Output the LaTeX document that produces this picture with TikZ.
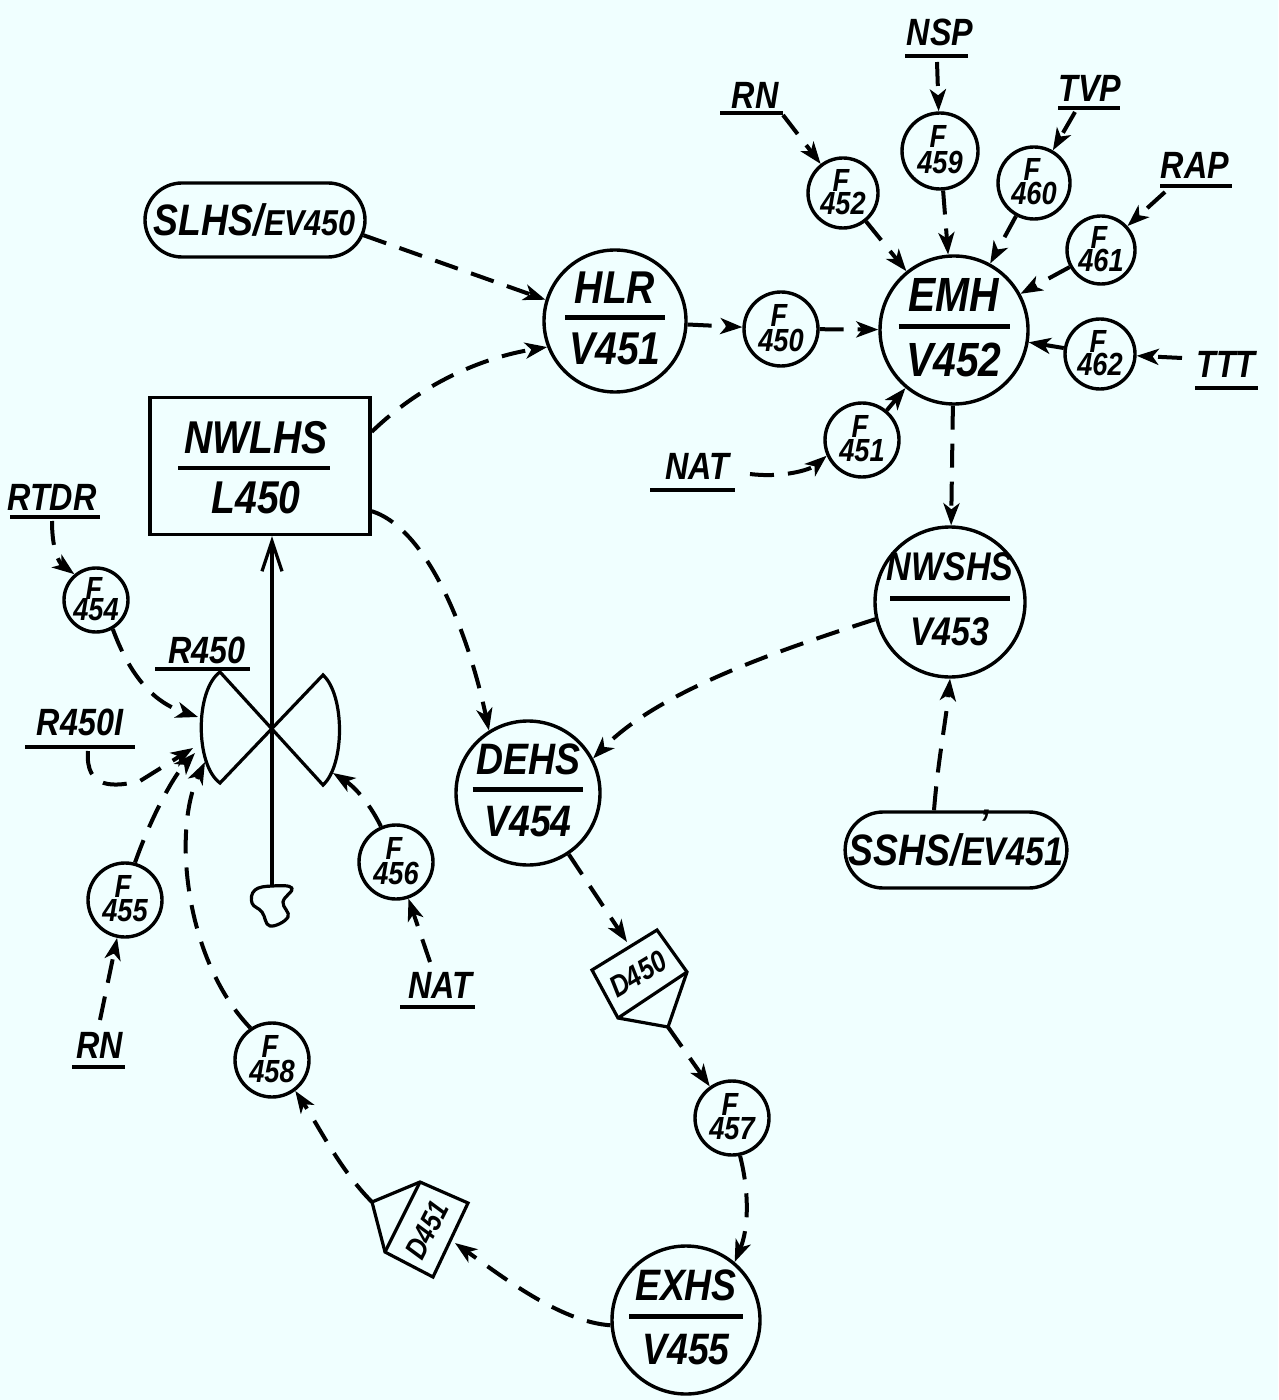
\documentclass[tikz,border=0pt]{standalone}
\usepackage{fontspec}
\setmainfont{Liberation Sans}[FakeStretch=0.85]
\usetikzlibrary{arrows.meta,shapes.misc}
\definecolor{bg}{RGB}{240,255,255}
\tikzset{
  circ/.style={draw, circle, line width=1.7pt, inner sep=0pt},
  rul/.style={line width=2.3pt},
  ft/.style={inner sep=0pt, font=\fontsize{16}{16}\selectfont\bfseries\itshape},
  lbl/.style={inner sep=0pt, font=\fontsize{19}{19}\selectfont\bfseries\itshape},
  ulin/.style={line width=2pt},
  tip/.style={-{Stealth[length=11pt,width=8pt,inset=3pt]}},
  dl/.style={line width=2pt, dash pattern=on 12pt off 7pt, tip},
  valve/.style={line width=1.6pt, line join=miter},
  pill/.style={draw, rounded rectangle, line width=1.7pt, inner sep=0pt},
}
% name, x, y, r(px), top, bottom, rule fraction, font size
\newcommand\hsnode[8]{%
  \node[circ, minimum size=#4pt] (#1) at (#2,#3) {};
  \node[inner sep=0pt, font=\fontsize{#8}{#8}\selectfont\bfseries\itshape] at (#2,{#3-0.47*#4}) {#5};
  \draw[rul] ({#2-#7*#4},{#3-0.05*#4}) -- ({#2+#7*#4},{#3-0.05*#4});
  \node[inner sep=0pt, font=\fontsize{#8}{#8}\selectfont\bfseries\itshape] at (#2,{#3+0.4*#4}) {#6};}
% name, x, y, r(px), number
\newcommand\fnode[5]{%
  \node[circ, minimum size=#4pt] (#1) at (#2,#3) {};
  \node[ft] at ({#2-2},{#3-0.37*#4}) {F};
  \node[ft] at (#2,{#3+0.3*#4}) {#5};}
% name, x, y, text, x1, x2, yline
\newcommand\ulab[7]{%
  \node[lbl] (#1) at (#2,#3) {#4};
  \draw[ulin] (#5,#7) -- (#6,#7);}
\begin{document}
\begin{tikzpicture}[x=0.5pt,y=-0.5pt]
\fill[bg] (0,0) rectangle (1278,1400);
\useasboundingbox (0,0) rectangle (1278,1400);

% ---- main nodes
\node[pill, minimum width=110pt, minimum height=37pt] (slhs) at (255,220)
  {\fontsize{22}{22}\selectfont\bfseries\itshape SLHS/\fontsize{18}{18}\selectfont EV450};
\node[pill, minimum width=109pt, minimum height=38pt] (sshs) at (956,850)
  {\fontsize{22}{22}\selectfont\bfseries\itshape SSHS/\fontsize{20}{20}\selectfont E\makebox[0pt]{\smash{\raisebox{0.7em}{'}}}V451};
\node[draw, rectangle, line width=1.7pt, minimum width=110pt, minimum height=68.5pt, inner sep=0pt] (nwlhs) at (260,466) {};
\node[inner sep=0pt, font=\fontsize{23}{23}\selectfont\bfseries\itshape] at (256,438) {NWLHS};
\draw[rul] (178,468) -- (330,468);
\node[inner sep=0pt, font=\fontsize{23}{23}\selectfont\bfseries\itshape] at (256,498) {L450};

\hsnode{hlr}{615}{321}{71}{HLR}{V451}{0.7}{23}
\hsnode{emh}{954}{330}{74}{EMH}{V452}{0.75}{24}
\hsnode{nwshs}{950}{602}{75}{NWSHS}{V453}{0.8}{20}
\hsnode{dehs}{528}{793}{72}{DEHS}{V454}{0.77}{22}
\hsnode{exhs}{686}{1320}{74}{EXHS}{V455}{0.77}{22}

\fnode{f450}{781}{329}{37}{450}
\fnode{f451}{862}{440}{37}{451}
\fnode{f452}{843}{193}{35}{452}
\fnode{f459}{940}{151}{38}{459}
\fnode{f460}{1034}{183}{36}{460}
\fnode{f461}{1101}{250}{34}{461}
\fnode{f462}{1100}{354}{35}{462}
\fnode{f454}{96}{600}{32}{454}
\fnode{f455}{125}{900}{37}{455}
\fnode{f456}{396}{862}{37}{456}
\fnode{f457}{732}{1118}{37}{457}
\fnode{f458}{272}{1060}{37}{458}

% ---- labels
\ulab{rnt}{755}{95}{RN}{720}{783}{113}
\ulab{nsp}{940}{32}{NSP}{905}{968}{56}
\ulab{tvp}{1090}{88}{TVP}{1058}{1120}{108}
\ulab{rap}{1195}{165}{RAP}{1160}{1232}{186}
\ulab{ttt}{1226}{364}{TTT}{1195}{1258}{388}
\ulab{natr}{697}{466}{NAT}{650}{735}{490}
\ulab{rtdr}{52}{497}{RTDR}{10}{100}{517}
\ulab{r450}{207}{650}{R450}{155}{250}{669}
\ulab{r450i}{80}{722}{R450I}{25}{135}{747}
\ulab{rnb}{100}{1045}{RN}{72}{125}{1067}
\ulab{natb}{440}{985}{NAT}{400}{475}{1007}

% label connector ends
\coordinate (rntc) at (783,115);
\coordinate (nspc) at (937,62);
\coordinate (tvpc) at (1075,112);
\coordinate (rapc) at (1165,192);
\coordinate (tttc) at (1182,358);
\coordinate (natrc) at (750,474);
\coordinate (rtdrc) at (52,521);
\coordinate (r450ic) at (88,751);
\coordinate (rnbc) at (100,1020);
\coordinate (natbc) at (430,962);

% ---- valve R450
\coordinate (vlt) at (220,672);
\coordinate (vlb) at (220,783);
\coordinate (vrt) at (323,675);
\coordinate (vrb) at (323,785);
\draw[valve] (vlt) -- (vrb) .. controls (345,765) and (345,695) .. (vrt)
  -- (vlb) .. controls (195,765) and (195,690) .. cycle;
\coordinate (v54) at (198,717);
\coordinate (v5i) at (193,748);
\coordinate (v55) at (195,753);
\coordinate (v58) at (205,762);
\coordinate (v56) at (333,773);

% blob and vertical arrow
\draw[valve, line join=round] plot[smooth cycle, tension=0.7] coordinates
  {(255,890) (272,886) (292,888) (283,902) (288,917) (270,926) (262,912) (252,903)};
\coordinate (blobtop) at (272,886);
\draw[line width=1.6pt, -{Straight Barb[length=15pt,width=10pt,line width=1.6pt]}]
  (blobtop) -- (blobtop |- nwlhs.south);

% ---- D450
\coordinate (da) at (592,970);
\coordinate (db) at (657,930);
\coordinate (dc) at (687,972);
\coordinate (dd) at (618,1018);
\coordinate (de) at (668,1027);
\draw[valve] (da) -- (db) -- (dc) -- (de) -- (dd) -- cycle;
\draw[valve] (dc) -- (dd);
\node[inner sep=0pt, rotate=31, font=\fontsize{15}{15}\selectfont\bfseries\itshape] (d450) at (638,974) {D450};
\coordinate (d450in) at (627,942);

% ---- D451
\coordinate (p1) at (372,1202);
\coordinate (p2) at (420,1182);
\coordinate (p3) at (468,1203);
\coordinate (p4) at (433,1277);
\coordinate (p5) at (385,1252);
\draw[valve] (p1) -- (p2) -- (p3) -- (p4) -- (p5) -- cycle;
\draw[valve] (p2) -- (p5);
\node[inner sep=0pt, rotate=63, font=\fontsize{15}{15}\selectfont\bfseries\itshape] (d451) at (427,1230) {D451};
\coordinate (d451in) at (455,1243);

% ---- connectors
\draw[dl] (slhs.-8) -- (hlr.163);
\draw[dl] (nwlhs.17) .. controls (420,385) and (480,358) .. (hlr.201);
\draw[dl] (hlr) -- (f450);
\draw[dl] (f450) -- (emh);
\draw[dl] (f452) -- (emh);
\draw[dl] (f459) -- (emh);
\draw[dl] (f460) -- (emh);
\draw[dl] (f461) -- (emh);
\draw[dl] (f462) -- (emh);
\draw[dl] (f451) -- (emh);
\draw[dl] (rntc) -- (f452);
\draw[dl] (nspc) -- (f459);
\draw[dl] (tvpc) -- (f460);
\draw[dl] (rapc) -- (f461);
\draw[dl] (tttc) -- (f462);
\draw[dl] (natrc) .. controls (782,478) and (810,470) .. (f451.204);
\draw[dl] (emh) -- (nwshs);
\draw[dl] (nwshs.193) .. controls (780,650) and (660,690) .. (dehs.28);
\draw[dl] (sshs.119) .. controls (938,760) and (946,720) .. (nwshs.south);
\draw[dl] (nwlhs.-22) .. controls (430,530) and (470,640) .. (dehs.122);
\draw[dl] (dehs) -- (d450in);
\draw[dl] (de) -- (f457);
\draw[dl] (f457.-78) .. controls (750,1195) and (748,1230) .. (exhs.50);
\draw[dl] (exhs.184) .. controls (560,1322) and (500,1275) .. (d451in);
\draw[dl] (p1) .. controls (340,1170) and (318,1125) .. (f458.-53);
\draw[dl] (f458.124) .. controls (185,960) and (172,830) .. (v58);
\draw[dl] (f454.-60) .. controls (135,690) and (165,706) .. (v54);
\draw[dl] (r450ic) .. controls (85,790) and (115,787) .. (140,781) -- (v5i);
\draw[dl] (f455.75) .. controls (150,820) and (172,778) .. (v55);
\draw[dl] (f456.113) .. controls (368,800) and (352,785) .. (v56);
\draw[dl] (rtdrc) .. controls (52,548) and (58,562) .. (f454.130);
\draw[dl] (rnbc) -- (f455);
\draw[dl] (natbc) -- (f456);
\end{tikzpicture}
\end{document}
